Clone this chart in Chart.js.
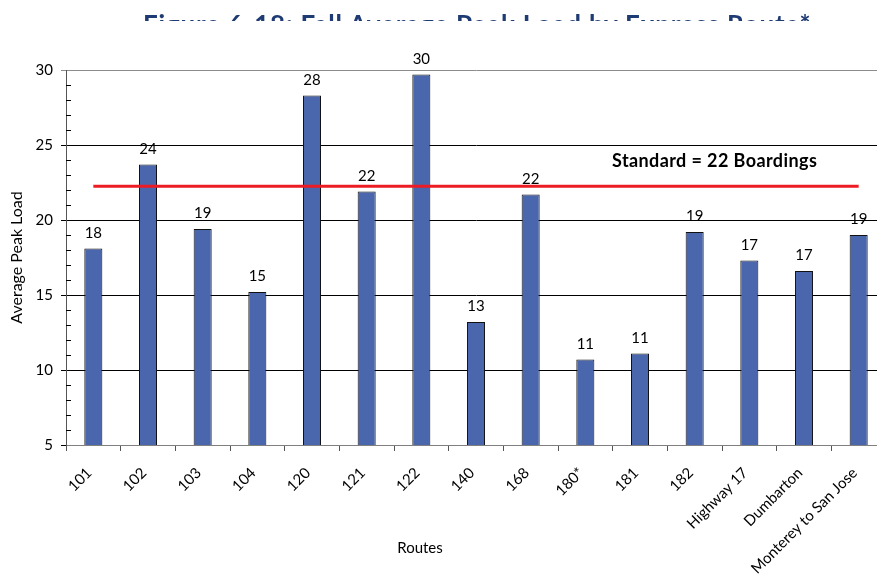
<!DOCTYPE html>
<html>
<head>
<meta charset="utf-8">
<script src="https://cdn.jsdelivr.net/npm/chart.js@4/dist/chart.umd.min.js"></script>
<style>
  html, body { margin: 0; padding: 0; background: #fff; overflow: hidden; width: 877px; height: 586px; }
  #wrap { position: relative; width: 886px; height: 586px; background: #fff; }
  #c { position: absolute; left: 0; top: 0; }
  #title { position: absolute; left: 143px; top: 0; height: 21px; overflow: hidden; white-space: nowrap;
           font-family: Lato, sans-serif; font-weight: bold; font-size: 26px; letter-spacing: 0.8px; color: #1f3b73; }
  #title span { display: block; line-height: 26px; padding-top: 11px; }
</style>
</head>
<body>
<div id="wrap">
  <canvas id="c" width="886" height="586"></canvas>
  <div id="title"><span>Figure 6-18: Fall Average Peak Load by Express Route*</span></div>
</div>
<script>
// Express routes and their average peak loads
const routes = ['101', '102', '103', '104', '120', '121', '122', '140', '168', '180*', '181', '182',
                'Highway 17', 'Dumbarton', 'Monterey to San Jose'];
const avgPeakLoad = [18.1, 23.7, 19.4, 15.2, 28.3, 21.9, 29.7, 13.2, 21.7, 10.7, 11.1, 19.2, 17.3, 16.6, 19.0];
const standardLoad = 22.25;
const yTicks = [5, 10, 15, 20, 25, 30];

const FONT = 'Lato, "Open Sans", sans-serif';

// small inward tick marks for every unit on the value axis
const minorTicks = {
  id: 'minorTicks',
  afterDraw(chart) {
    const y = chart.scales.y, ctx = chart.ctx, left = chart.chartArea.left;
    ctx.save();
    ctx.strokeStyle = '#000';
    ctx.lineWidth = 1;
    for (let v = yTicks[0]; v <= yTicks[yTicks.length - 1]; v++) {
      if (yTicks.includes(v)) continue;
      const py = Math.round(y.getPixelForValue(v)) + 0.5;
      ctx.beginPath();
      ctx.moveTo(left, py);
      ctx.lineTo(left + 5, py);
      ctx.stroke();
    }
    ctx.restore();
  }
};

// value labels above bars, standard caption, axis titles
const labels = {
  id: 'labels',
  afterDatasetsDraw(chart) {
    const ctx = chart.ctx, area = chart.chartArea;
    const meta = chart.getDatasetMeta(1);
    ctx.save();
    ctx.fillStyle = '#000';
    ctx.font = '15px ' + FONT;
    ctx.textAlign = 'center';
    ctx.textBaseline = 'alphabetic';
    meta.data.forEach((bar, i) => {
      ctx.fillText(String(Math.round(avgPeakLoad[i])), bar.x, bar.y - 11);
    });

    const ly = chart.scales.y.getPixelForValue(standardLoad);
    ctx.font = 'bold 18px ' + FONT;
    ctx.letterSpacing = '0.4px';
    ctx.fillText('Standard = ' + Math.round(standardLoad) + ' Boardings',
                 area.left + (area.right - area.left) * 0.791, ly - 19);
    ctx.letterSpacing = '0px';

    ctx.font = '15px ' + FONT;
    ctx.fillText('Routes', 420, 553);

    ctx.translate(17, (area.top + area.bottom) / 2);
    ctx.rotate(-Math.PI / 2);
    ctx.font = '16px ' + FONT;
    ctx.textBaseline = 'middle';
    ctx.fillText('Average Peak Load', 0, 0);
    ctx.restore();
  }
};

const whiteBg = {
  id: 'whiteBg',
  beforeDraw(chart) {
    const ctx = chart.ctx;
    ctx.save();
    ctx.fillStyle = '#fff';
    ctx.fillRect(0, 0, chart.width, chart.height);
    ctx.restore();
  }
};

new Chart(document.getElementById('c'), {
  data: {
    labels: routes,
    datasets: [
      {
        type: 'line',
        label: 'Standard',
        data: routes.map(() => standardLoad),
        borderColor: '#ed1c24',
        borderWidth: 3,
        pointRadius: 0,
        fill: false,
        order: 0
      },
      {
        type: 'bar',
        label: 'Average Peak Load',
        data: avgPeakLoad,
        backgroundColor: '#4a66ac',
        borderColor: '#111',
        borderWidth: 1,
        categoryPercentage: 1,
        barPercentage: 0.33,
        order: 1
      }
    ]
  },
  options: {
    responsive: false,
    animation: false,
    layout: { padding: { top: 70, left: 0, right: 0, bottom: 0 } },
    plugins: { legend: { display: false }, tooltip: { enabled: false }, title: { display: false } },
    scales: {
      x: {
        offset: true,
        grid: { display: true, drawOnChartArea: false, drawTicks: true, tickLength: 6, color: '#555', offset: true },
        border: { color: '#808080', width: 1 },
        ticks: { minRotation: 45, maxRotation: 45, autoSkip: false, color: '#000',
                 font: { family: FONT, size: 15 }, padding: 13, labelOffset: -4 },
        afterFit(s) { s.height = 141; }
      },
      y: {
        min: yTicks[0],
        max: yTicks[yTicks.length - 1],
        afterBuildTicks(s) { s.ticks = yTicks.map(v => ({ value: v })); },
        ticks: { color: '#000', font: { family: FONT, size: 15 }, padding: 8 },
        grid: { color: ctx => (ctx.tick && ctx.tick.value === yTicks[yTicks.length - 1]) ? '#8c8c8c' : '#000',
                tickLength: 5, drawTicks: true, lineWidth: 1 },
        border: { color: '#555', width: 1 },
        afterFit(s) { s.width = 66; }
      }
    }
  },
  plugins: [whiteBg, minorTicks, labels]
});
</script>
</body>
</html>
